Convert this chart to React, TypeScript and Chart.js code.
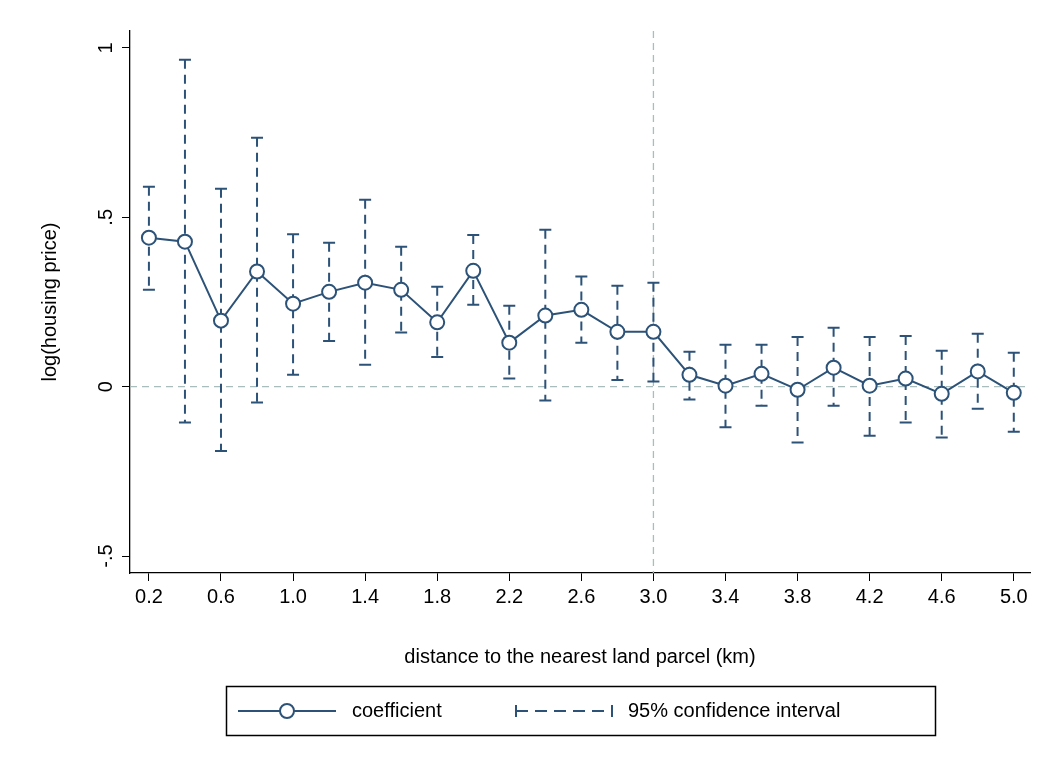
import { useEffect, useRef } from "react";
import { Chart, registerables } from "chart.js";
Chart.register(...registerables);

const distances = [0.2,0.4,0.6,0.8,1.0,1.2,1.4,1.6,1.8,2.0,2.2,2.4,2.6,2.8,3.0,3.2,3.4,3.6,3.8,4.0,4.2,4.4,4.6,4.8,5.0];
const coefficient = [0.44,0.428,0.195,0.34,0.245,0.28,0.307,0.286,0.19,0.342,0.13,0.21,0.227,0.162,0.162,0.035,0.003,0.038,-0.009,0.056,0.003,0.024,-0.021,0.045,-0.018];
const ciUpper = [0.59,0.965,0.584,0.735,0.45,0.425,0.552,0.413,0.295,0.448,0.239,0.463,0.325,0.298,0.307,0.103,0.124,0.124,0.147,0.174,0.147,0.15,0.106,0.156,0.1];
const ciLower = [0.286,-0.106,-0.19,-0.047,0.035,0.135,0.065,0.16,0.088,0.242,0.024,-0.041,0.13,0.02,0.015,-0.038,-0.12,-0.056,-0.165,-0.056,-0.145,-0.106,-0.15,-0.065,-0.133];
const xTicks = [0.2,0.6,1.0,1.4,1.8,2.2,2.6,3.0,3.4,3.8,4.2,4.6,5.0];
const yTicks = [-0.5,0,0.5,1];
const yTickLabels = ["-.5","0",".5","1"];

const NAVY = "#2c5278";
const FONT = "'Liberation Sans', Arial, sans-serif";

export default function App() {
  const ref = useRef<HTMLCanvasElement>(null);
  useEffect(() => {
    const plugin = {
      id: "custom",
      beforeDatasetsDraw(chart: any) {
        const { ctx, scales: { x, y }, chartArea: ca } = chart;
        ctx.save();
        ctx.strokeStyle = "#a9bdbd";
        ctx.lineWidth = 1.3;
        ctx.setLineDash([7, 5]);
        ctx.beginPath();
        ctx.moveTo(ca.left, y.getPixelForValue(0));
        ctx.lineTo(ca.right, y.getPixelForValue(0));
        ctx.moveTo(x.getPixelForValue(3.0), ca.top);
        ctx.lineTo(x.getPixelForValue(3.0), ca.bottom);
        ctx.stroke();
        // error bars
        ctx.strokeStyle = NAVY;
        ctx.lineWidth = 2;
        distances.forEach((d, i) => {
          const px = x.getPixelForValue(d);
          const yu = y.getPixelForValue(ciUpper[i]);
          const yl = y.getPixelForValue(ciLower[i]);
          ctx.setLineDash([9, 6]);
          ctx.beginPath();
          ctx.moveTo(px, yu); ctx.lineTo(px, yl); ctx.stroke();
          ctx.setLineDash([]);
          ctx.beginPath();
          ctx.moveTo(px - 6, yu); ctx.lineTo(px + 6, yu);
          ctx.moveTo(px - 6, yl); ctx.lineTo(px + 6, yl);
          ctx.stroke();
        });
        ctx.restore();
      },
      afterDraw(chart: any) {
        const { ctx, scales: { x, y }, chartArea: ca } = chart;
        ctx.save();
        ctx.fillStyle = "#000";
        ctx.font = `20px ${FONT}`;
        ctx.textAlign = "center";
        ctx.textBaseline = "middle";
        yTicks.forEach((v, i) => {
          ctx.save();
          ctx.translate(106, y.getPixelForValue(v));
          ctx.rotate(-Math.PI / 2);
          ctx.fillText(yTickLabels[i], 0, 0);
          ctx.restore();
        });
        ctx.save();
        ctx.translate(50, y.getPixelForValue(0.25));
        ctx.rotate(-Math.PI / 2);
        ctx.fillText("log(housing price)", 0, 0);
        ctx.restore();
        ctx.fillText("distance to the nearest land parcel (km)", (ca.left + ca.right) / 2, 657);
        // legend
        ctx.strokeStyle = "#000";
        ctx.lineWidth = 1.5;
        ctx.strokeRect(226.5, 686.5, 709, 49);
        const ly = 711;
        ctx.strokeStyle = NAVY;
        ctx.lineWidth = 2;
        ctx.beginPath(); ctx.moveTo(238, ly); ctx.lineTo(336, ly); ctx.stroke();
        ctx.fillStyle = "#fff";
        ctx.beginPath(); ctx.arc(287, ly, 7, 0, Math.PI * 2); ctx.fill(); ctx.stroke();
        ctx.setLineDash([12, 7]);
        ctx.beginPath(); ctx.moveTo(516, ly); ctx.lineTo(612, ly); ctx.stroke();
        ctx.setLineDash([]);
        ctx.beginPath();
        ctx.moveTo(516, ly - 6); ctx.lineTo(516, ly + 6);
        ctx.moveTo(612, ly - 6); ctx.lineTo(612, ly + 6);
        ctx.stroke();
        ctx.fillStyle = "#000";
        ctx.textAlign = "left";
        ctx.fillText("coefficient", 352, ly);
        ctx.fillText("95% confidence interval", 628, ly);
        ctx.restore();
      },
    };
    const chart = new Chart(ref.current!, {
      type: "line",
      data: {
        datasets: [{
          data: distances.map((d, i) => ({ x: d, y: coefficient[i] })),
          borderColor: NAVY,
          borderWidth: 2,
          pointRadius: 7,
          pointBorderWidth: 2,
          pointBackgroundColor: "#fff",
          pointBorderColor: NAVY,
          tension: 0,
        }],
      },
      options: {
        animation: false,
        responsive: false,
        layout: { padding: { top: 31, right: 17, left: 0, bottom: 0 } },
        plugins: { legend: { display: false }, tooltip: { enabled: false } },
        scales: {
          x: {
            type: "linear", min: 0.095, max: 5.09,
            afterBuildTicks: (s: any) => { s.ticks = xTicks.map(v => ({ value: v })); },
            afterFit: (s: any) => { s.height = 191; },
            ticks: { color: "#000", font: { size: 20, family: FONT }, padding: 4, maxRotation: 0, autoSkip: false, callback: (v: any) => Number(v).toFixed(1) },
            grid: { drawOnChartArea: false, drawTicks: true, tickLength: 8, color: "#000" },
            border: { display: true, color: "#000", width: 1.3 },
          },
          y: {
            type: "linear", min: -0.55, max: 1.05,
            afterBuildTicks: (s: any) => { s.ticks = yTicks.map(v => ({ value: v })); },
            afterFit: (s: any) => { s.width = 130; },
            ticks: { callback: () => "", padding: 0 },
            grid: { drawOnChartArea: false, drawTicks: true, tickLength: 8, color: "#000" },
            border: { display: true, color: "#000", width: 1.3 },
          },
        },
      },
      plugins: [plugin],
    });
    return () => chart.destroy();
  }, []);
  return (
    <div style={{ position: "absolute", left: 0, top: 0, width: 1047, height: 764, background: "#fff" }}>
      <canvas ref={ref} width={1047} height={764} style={{ width: 1047, height: 764 }} />
    </div>
  );
}
